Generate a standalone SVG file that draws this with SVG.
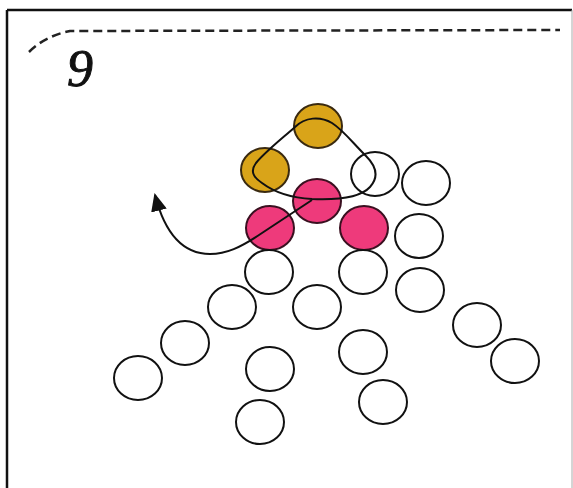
<svg xmlns="http://www.w3.org/2000/svg" width="573" height="488" viewBox="0 0 573 488">
<defs>
<style>
.e{fill:#fff;stroke:#111;stroke-width:2}
.g{fill:#D9A419;stroke:#3a2a10;stroke-width:2}
.p{fill:#EE3A7B;stroke:#3a1020;stroke-width:2}
.ln{fill:none;stroke:#111;stroke-width:2}
.dash{fill:none;stroke:#222;stroke-width:2.5;stroke-dasharray:9 5}
</style>
<marker id="ah2" viewBox="0 0 18 16" refX="16" refY="8" markerWidth="18" markerHeight="16" markerUnits="userSpaceOnUse" orient="auto">
<path d="M0,0 L18,8 L0,16 Z" fill="#111"/>
</marker>
</defs>
<rect x="0" y="0" width="573" height="488" fill="#fff"/>
<path d="M7,10 L572,10 M7,10 L7,488" fill="none" stroke="#111" stroke-width="2.5"/>
<line x1="572" y1="10" x2="572" y2="488" stroke="#aaa" stroke-width="1"/>
<path class="dash" d="M29,52 Q45,36 70,31 L560,30"/>
<text x="67" y="86" font-family="Liberation Serif, serif" font-style="italic" font-size="52" fill="#111" stroke="#111" stroke-width="1">9</text>
<g id="gold-top"><ellipse class="g" cx="318" cy="126" rx="24" ry="22"/></g>
<g id="gold-left"><ellipse class="g" cx="265" cy="170" rx="24" ry="22"/></g>
<g id="pink-center"><ellipse class="p" cx="317" cy="201" rx="24" ry="22"/></g>
<g id="pink-left"><ellipse class="p" cx="270" cy="228" rx="24" ry="22"/></g>
<g id="pink-right"><ellipse class="p" cx="364" cy="228" rx="24" ry="22"/></g>
<g id="c1"><ellipse class="e" cx="375" cy="174" rx="24" ry="22"/></g>
<g id="c2"><ellipse class="e" cx="426" cy="183" rx="24" ry="22"/></g>
<g id="c3"><ellipse class="e" cx="419" cy="236" rx="24" ry="22"/></g>
<g id="c4"><ellipse class="e" cx="269" cy="272" rx="24" ry="22"/></g>
<g id="c5"><ellipse class="e" cx="363" cy="272" rx="24" ry="22"/></g>
<g id="c6"><ellipse class="e" cx="420" cy="290" rx="24" ry="22"/></g>
<g id="c7"><ellipse class="e" cx="232" cy="307" rx="24" ry="22"/></g>
<g id="c8"><ellipse class="e" cx="317" cy="307" rx="24" ry="22"/></g>
<g id="c9"><ellipse class="e" cx="185" cy="343" rx="24" ry="22"/></g>
<g id="c10"><ellipse class="e" cx="138" cy="378" rx="24" ry="22"/></g>
<g id="c11"><ellipse class="e" cx="270" cy="369" rx="24" ry="22"/></g>
<g id="c12"><ellipse class="e" cx="260" cy="422" rx="24" ry="22"/></g>
<g id="c13"><ellipse class="e" cx="363" cy="352" rx="24" ry="22"/></g>
<g id="c14"><ellipse class="e" cx="383" cy="402" rx="24" ry="22"/></g>
<g id="c15"><ellipse class="e" cx="477" cy="325" rx="24" ry="22"/></g>
<g id="c16"><ellipse class="e" cx="515" cy="361" rx="24" ry="22"/></g>
<g id="connectors">
<path class="ln" d="M312,199 C336,200 360,198 370,187 C379,177 376,166 366,156 C352,142 343,130 332,123 C320,116 305,117 295,127 C284,137 266,151 256,163 C250,171 253,177 262,183 C274,192 292,198 312,199"/>
<path class="ln" marker-end="url(#ah2)" d="M312,200 L262,233 C240,248 226,254 210,254 C183,254 165,234 155,195"/>
</g>
</svg>
